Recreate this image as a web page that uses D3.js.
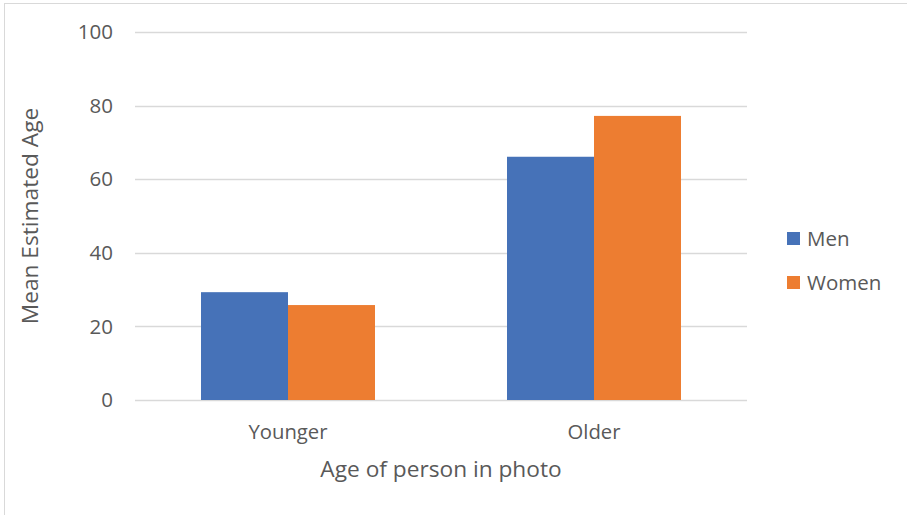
<!DOCTYPE html>
<html>
<head>
<meta charset="utf-8">
<script src="https://cdn.jsdelivr.net/npm/d3@7"></script>
<style>
  body { margin: 0; background: #fff; }
  text { font-family: "Open Sans", sans-serif; fill: #595959; }
</style>
</head>
<body>
<div id="chart"></div>
<script>
"use strict";

// == DATA ==
var categories = ["Younger", "Older"];
var seriesNames = ["Men", "Women"];
var menValues = [29.3, 66.1];
var womenValues = [25.8, 77.2];
var yTicks = [0, 20, 40, 60, 80, 100];
var colors = ["#4672b8", "#ed7d31"];

var width = 907, height = 515;
var margin = { top: 32, left: 135, right: 160, bottom: 115 };

var svg = d3.select("#chart").append("svg")
  .attr("width", width)
  .attr("height", height);

// chart border
svg.append("rect")
  .attr("x", 4.5).attr("y", 3.5)
  .attr("width", width + 10).attr("height", height + 10)
  .attr("fill", "none")
  .attr("stroke", "#d9d9d9");

var plotW = 747 - margin.left, plotH = 400 - margin.top;

var g = svg.append("g")
  .attr("transform", "translate(" + margin.left + "," + margin.top + ")");

var y = d3.scaleLinear().domain([0, 100]).range([plotH, 0]);
var x0 = d3.scaleBand().domain(categories).range([0, plotW]).padding(0);
var x1 = d3.scaleBand().domain(seriesNames).range([0, x0.bandwidth()])
  .paddingInner(0).paddingOuter(0.7586);

// gridlines
g.selectAll(".grid").data(yTicks).enter().append("line")
  .attr("x1", 0).attr("x2", plotW)
  .attr("y1", function(d){ return Math.round(y(d)) + 0.5; })
  .attr("y2", function(d){ return Math.round(y(d)) + 0.5; })
  .attr("stroke", "#d9d9d9")
  .attr("stroke-width", 1.3);

// y tick labels
g.selectAll(".ytick").data(yTicks).enter().append("text")
  .attr("x", -22)
  .attr("y", function(d){ return y(d); })
  .attr("dy", "0.35em")
  .attr("text-anchor", "end")
  .style("font-size", "20.5px")
  .text(function(d){ return d; });

// bars
var rows = categories.map(function(c, i){
  return { cat: c, values: [menValues[i], womenValues[i]] };
});

var groups = g.selectAll(".cat").data(rows).enter().append("g")
  .attr("transform", function(d){ return "translate(" + x0(d.cat) + ",0)"; });

groups.selectAll("rect")
  .data(function(d){ return d.values.map(function(v, j){ return { s: seriesNames[j], v: v, j: j }; }); })
  .enter().append("rect")
  .attr("x", function(d){ return x1(d.s); })
  .attr("width", x1.bandwidth())
  .attr("y", function(d){ return y(d.v); })
  .attr("height", function(d){ return plotH - y(d.v); })
  .attr("fill", function(d){ return colors[d.j]; });

// category labels
g.selectAll(".xtick").data(categories).enter().append("text")
  .attr("x", function(d){ return x0(d) + x0.bandwidth() / 2; })
  .attr("y", plotH + 39)
  .attr("text-anchor", "middle")
  .style("font-size", "20.3px")
  .text(function(d){ return d; });

// axis titles
svg.append("text")
  .attr("x", margin.left + plotW / 2 - 0)
  .attr("y", 477)
  .attr("text-anchor", "middle")
  .style("font-size", "22.7px")
  .text("Age of person in photo");

svg.append("text")
  .attr("transform", "translate(38,216) rotate(-90)")
  .attr("text-anchor", "middle")
  .style("font-size", "22.7px")
  .text("Mean Estimated Age");

// legend
var legend = svg.selectAll(".legend").data(seriesNames).enter().append("g")
  .attr("transform", function(d, i){ return "translate(787," + (232 + i * 44) + ")"; });

legend.append("rect")
  .attr("width", 13).attr("height", 13)
  .attr("fill", function(d, i){ return colors[i]; });

legend.append("text")
  .attr("x", 20).attr("y", 14)
  .style("font-size", "20.5px")
  .text(function(d){ return d; });
</script>
</body>
</html>
